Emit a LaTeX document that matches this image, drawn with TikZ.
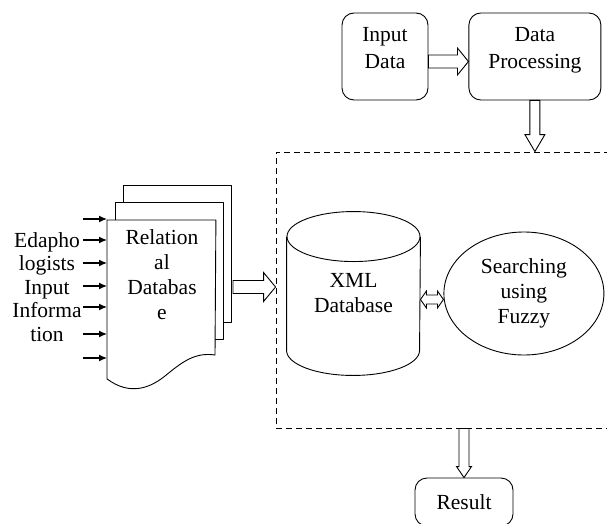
\documentclass[tikz,border=0pt]{standalone}
\usepackage{fontspec}
\setmainfont{Liberation Serif}
\usetikzlibrary{calc,positioning,shapes.geometric,arrows.meta}
\tikzset{
	every node/.style={font=\fontsize{21.5}{25}\selectfont, align=center},
	box/.style={draw, rounded corners=12pt, inner sep=0pt},
	topbox/.style={box, minimum height=87, text depth=18pt,
		font=\fontsize{21.5}{27}\selectfont},
	feed/.style={{Latex[length=8pt,width=7pt]}-, line width=1.3pt},
	% hollow block arrow: body half width / head half width / head length
	fat/.style args={#1/#2/#3}{fill=white, line join=miter,
		to path={
			($(\tikztostart)!#1!90:(\tikztotarget)$)
			-- ($($(\tikztotarget)!#3!(\tikztostart)$)!#1!90:(\tikztotarget)$)
			-- ($($(\tikztotarget)!#3!(\tikztostart)$)!#2!90:(\tikztotarget)$)
			-- (\tikztotarget)
			-- ($($(\tikztotarget)!#3!(\tikztostart)$)!#2!-90:(\tikztotarget)$)
			-- ($($(\tikztotarget)!#3!(\tikztostart)$)!#1!-90:(\tikztotarget)$)
			-- ($(\tikztostart)!#1!-90:(\tikztotarget)$)
			-- cycle}},
	fatboth/.style args={#1/#2/#3}{fill=white, line join=miter,
		to path={
			(\tikztostart)
			-- ($($(\tikztostart)!#3!(\tikztotarget)$)!#2!90:(\tikztotarget)$)
			-- ($($(\tikztostart)!#3!(\tikztotarget)$)!#1!90:(\tikztotarget)$)
			-- ($($(\tikztotarget)!#3!(\tikztostart)$)!#1!90:(\tikztotarget)$)
			-- ($($(\tikztotarget)!#3!(\tikztostart)$)!#2!90:(\tikztotarget)$)
			-- (\tikztotarget)
			-- ($($(\tikztotarget)!#3!(\tikztostart)$)!#2!-90:(\tikztotarget)$)
			-- ($($(\tikztotarget)!#3!(\tikztostart)$)!#1!-90:(\tikztotarget)$)
			-- ($($(\tikztostart)!#3!(\tikztotarget)$)!#1!-90:(\tikztotarget)$)
			-- ($($(\tikztostart)!#3!(\tikztotarget)$)!#2!-90:(\tikztotarget)$)
			-- cycle}},
}

\begin{document}
\begin{tikzpicture}[x=1pt,y=-1pt,line width=0.9pt,line join=round]
	\useasboundingbox (0,0) rectangle (607,524);
	\clip (0,0) rectangle (607,524);
	
	% input and preprocessing
	\node[topbox, minimum width=86] (inp) at (385,56.5) {Input\\Data};
	\node[topbox, minimum width=132, right=40pt of inp] (proc) {Data\\Processing};
	\draw[fat=6.5pt/13.5pt/11pt] ([yshift=-5pt]inp.east) to ([yshift=-5pt]proc.west);
	
	% dashed system boundary
	\node[draw, dash pattern=on 6pt off 4pt, minimum width=339, minimum height=276, inner sep=0pt] (frame) at (445.5,290) {};
	\draw[fat=5pt/10pt/17pt] (proc.south) to (proc.south |- frame.north);
	
	% stack of pages
	\node[minimum width=108, minimum height=158, anchor=north west, inner sep=0pt] (page) at (107,220) {};
	\foreach \k in {2,1}
		\draw[fill=white] ($(page.north west)+(8*\k,-17.5*\k)$) rectangle ++(108,137);
	\draw[fill=white] (page.north west) -- (page.north east) -- (215,355)
		.. controls (195,352) and (182,362) .. (165,376)
		.. controls (150,388) and (130,396) .. (page.south west) -- cycle;
	\node (rdb) at (162,275) {Relation\\al\\Databas\\e};
	
	\node[font=\fontsize{21.5}{23.5}\selectfont] (who) at (47,287) {Edapho\\logists\\Input\\Informa\\tion};
	\foreach \y in {219,240,263,286,307,334,358}
		\draw[feed] (page.west |- 0,\y) -- ++(-24,0);
	
	\coordinate (rdbout) at (233,287);
	\draw[fat=6.5pt/14.5pt/12pt] (rdbout) to (rdbout -| frame.west);
	
	% database cylinder
	\node[minimum width=133, minimum height=163, inner sep=0pt] (xml) at (353.5,293.5) {XML\\Database};
	\draw ([yshift=-25pt]xml.north) ellipse [x radius=66.5pt, y radius=25pt];
	\draw ([yshift=-25pt]xml.north west) -- ([yshift=25pt]xml.south west)
		arc [start angle=180, end angle=360, x radius=66.5pt, y radius=25pt]
		-- ([yshift=-25pt]xml.north east);
	
	\node[draw, ellipse, minimum width=160, minimum height=123, inner sep=0pt, right=23pt of xml] (fuzzy) {Searching\\using\\Fuzzy};
	\draw[fatboth=4.5pt/8.5pt/6pt] ([yshift=-6pt]xml.east) to ([yshift=-6pt]fuzzy.west);
	
	% output
	\node[box, minimum width=98, minimum height=48] (result) at (464,502) {Result};
	\draw[fat=5pt/7.5pt/11pt] (result.north |- frame.south) to (result.north);
\end{tikzpicture}
\end{document}
